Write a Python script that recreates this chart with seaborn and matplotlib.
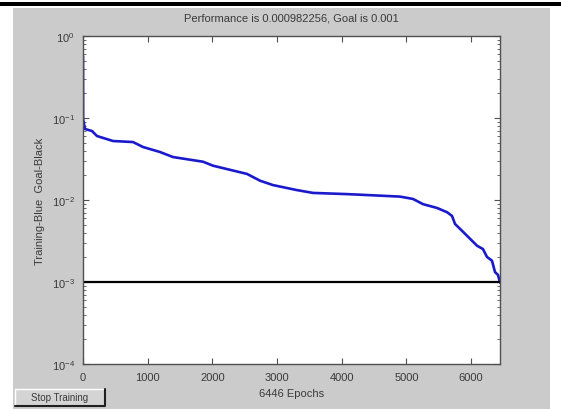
import numpy as np
import pandas as pd
import matplotlib
matplotlib.use('Agg')
import matplotlib.pyplot as plt
from matplotlib.patches import Rectangle
from matplotlib.ticker import LogLocator, NullFormatter
import seaborn as sns

# training record (epoch, performance)
epochs = [0, 2, 31, 139, 216, 464, 773, 927, 1190, 1391, 1855, 2010, 2535,
          2736, 2937, 3308, 3555, 4081, 4591, 4900, 5101, 5256, 5472, 5627,
          5704, 5751, 5874, 6091, 6183, 6245, 6322, 6369, 6415, 6446]
perf = [0.57, 0.097, 0.0734, 0.0694, 0.0603, 0.0524, 0.0509, 0.0443, 0.0385,
        0.0334, 0.0293, 0.0262, 0.0208, 0.0172, 0.0152, 0.0132, 0.0122,
        0.0118, 0.0113, 0.0110, 0.0103, 0.0089, 0.0080, 0.0071, 0.0064,
        0.0051, 0.0041, 0.00277, 0.00252, 0.00202, 0.00182, 0.00132,
        0.00122, 0.000982256]
goal_epochs = [0, 6446]
goal_vals = [0.001, 0.001]
x_ticks = [0, 1000, 2000, 3000, 4000, 5000, 6000]

W, H = 561, 410
PANEL = '#cbcbcb'
TXT = '#3a3a3a'

sns.set_style('ticks')
plt.rcParams['font.family'] = ['Liberation Sans', 'DejaVu Sans']
plt.rcParams['mathtext.default'] = 'regular'

fig = plt.figure(figsize=(W / 100, H / 100), dpi=100, facecolor='white')

# grey figure window and the black bar on top
fig.add_artist(Rectangle((13 / W, 0), (550 - 13) / W, (410 - 9) / H,
                         transform=fig.transFigure, facecolor=PANEL,
                         edgecolor='none', zorder=-2))
fig.add_artist(Rectangle((0, 1 - 7 / H), 1, 4 / H, transform=fig.transFigure,
                         facecolor='black', edgecolor='none', zorder=-1))

ax = fig.add_axes([83 / W, 1 - 365 / H, 417 / W, 328 / H])
ax.set_facecolor('white')

df = pd.DataFrame({'epoch': epochs, 'perf': perf})
goal = pd.DataFrame({'epoch': goal_epochs, 'perf': goal_vals})
sns.lineplot(data=df, x='epoch', y='perf', ax=ax, color='#1a1acc',
             linewidth=1.9, sort=False)
sns.lineplot(data=goal, x='epoch', y='perf', ax=ax, color='black',
             linewidth=1.6)

ax.set_yscale('log')
ax.set_xlim(0, 6446)
ax.set_ylim(1e-4, 1)
ax.set_xticks(x_ticks)
ax.yaxis.set_major_locator(LogLocator(base=10, numticks=10))
ax.yaxis.set_minor_locator(LogLocator(base=10, subs=np.arange(2, 10), numticks=20))
ax.yaxis.set_minor_formatter(NullFormatter())

for s in ax.spines.values():
    s.set_color('#505050')
    s.set_linewidth(1.0)
    s.set_visible(True)
ax.tick_params(which='both', direction='in', top=True, right=True,
               colors='#505050', labelcolor=TXT, labelsize=8)
ax.tick_params(which='major', length=4, width=0.8)
ax.tick_params(which='minor', length=2, width=0.6)
ax.tick_params(axis='x', pad=6)
ax.tick_params(axis='y', pad=6)

ax.set_title('Performance is 0.000982256, Goal is 0.001', fontsize=8,
             color=TXT, pad=11)
ax.set_xlabel('6446 Epochs', fontsize=8, color=TXT, labelpad=4)
ax.set_ylabel('Training-Blue  Goal-Black', fontsize=8, color=TXT, labelpad=5)

# "Stop Training" button
bx, by, bw, bh = 15, 390, 90, 17
fig.add_artist(Rectangle((bx / W, 1 - (by + bh) / H), bw / W, bh / H,
                         transform=fig.transFigure, facecolor='#d4d4d4',
                         edgecolor='none', zorder=2))
fig.add_artist(plt.Line2D([bx / W, bx / W, (bx + bw) / W],
                          [1 - (by + bh) / H, 1 - by / H, 1 - by / H],
                          transform=fig.transFigure, color='white', lw=1, zorder=3))
fig.add_artist(plt.Line2D([bx / W, (bx + bw) / W, (bx + bw) / W],
                          [1 - (by + bh) / H, 1 - (by + bh) / H, 1 - by / H],
                          transform=fig.transFigure, color='#202020', lw=1.5, zorder=3))
fig.text((bx + bw / 2) / W, 1 - (by + bh / 2) / H, 'Stop Training',
         fontsize=7, color=TXT, ha='center', va='center', zorder=4)

fig.savefig('out.png', dpi=100, facecolor='white')
